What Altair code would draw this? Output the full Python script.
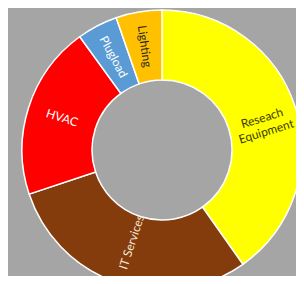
import altair as alt
import pandas as pd

categories = ["Reseach\nEquipment", "IT Services", "HVAC", "Plugload", "Lighting"]
values = [40.2, 29.7, 20.1, 4.7, 5.3]
colors = ["#FFFF00", "#843C0C", "#FF0000", "#5B9BD5", "#FFC000"]

# label styling (rotation in degrees, text colour)
label_rot = {"Reseach\nEquipment": -17, "IT Services": -72, "HVAC": 18, "Plugload": 62, "Lighting": 82}
label_col = {"Reseach\nEquipment": "#3d3d00", "IT Services": "#f5e6d8", "HVAC": "#ffffff",
             "Plugload": "#ffffff", "Lighting": "#262626"}

df = pd.DataFrame({"cat": categories, "value": values, "idx": list(range(len(categories)))})

def expr_map(d, quote):
    e = "0" if not quote else "''"
    for k, v in d.items():
        kk = k.replace("\n", "\\n")
        vv = f"'{v}'" if quote else str(v)
        e = f"datum.cat === '{kk}' ? {vv} : ({e})"
    return e

CX, CY = 154, 142

base = alt.Chart(df).encode(
    theta=alt.Theta("value:Q", stack=True),
    order=alt.Order("idx:Q"),
)

arcs = base.mark_arc(outerRadius=140, innerRadius=70, stroke="#ffffff", strokeWidth=1.5).encode(
    color=alt.Color("cat:N", scale=alt.Scale(domain=categories, range=colors), legend=None),
    x=alt.value(CX),
    y=alt.value(CY),
)

def label_layer(radius, keep_it):
    cond = "datum.cat === 'IT Services'" if keep_it else "datum.cat !== 'IT Services'"
    return base.transform_calculate(
        rot=expr_map(label_rot, False),
        tc=expr_map(label_col, True),
        lab=f"{cond} ? datum.cat : ''",
    ).mark_text(radius=radius, font="Lato", fontSize=12, lineBreak="\n",
                align="center", baseline="middle").encode(
        text="lab:N",
        angle=alt.Angle("rot:Q", scale=None),
        color=alt.Color("tc:N", scale=None),
        x=alt.value(CX),
        y=alt.value(CY),
    )

chart = alt.layer(arcs, label_layer(105, False), label_layer(97, True)).properties(
    width=288, height=268, padding=0, autosize=alt.AutoSizeParams(type="none"),
).configure(background="#A5A5A5").configure_view(stroke=None)

chart.save("out.html", embed_options={"renderer": "svg", "actions": False})
